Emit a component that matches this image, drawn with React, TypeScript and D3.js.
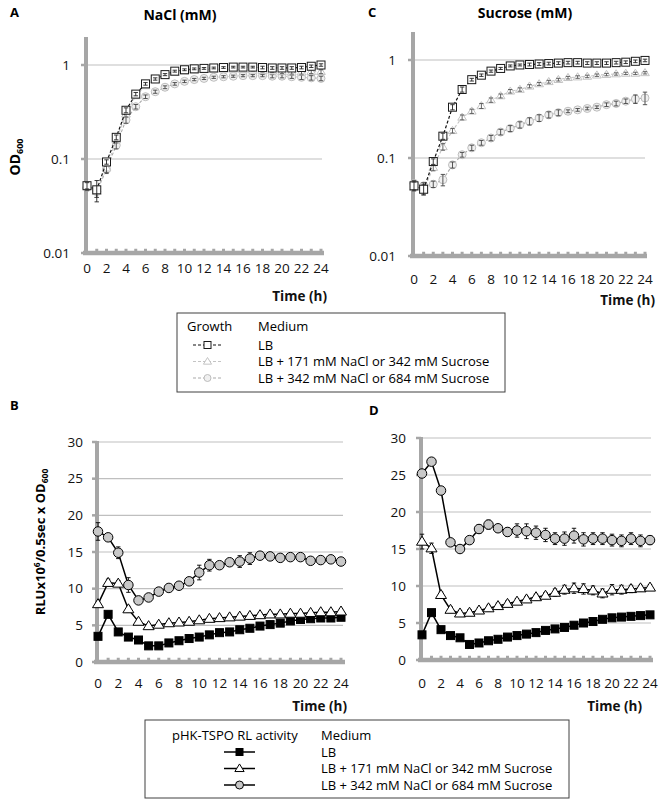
import React from 'react';
import * as d3 from 'd3';

// ---------- data ----------
const HOURS = [0, 1, 2, 3, 4, 5, 6, 7, 8, 9, 10, 11, 12, 13, 14, 15, 16, 17, 18, 19, 20, 21, 22, 23, 24];
const EVEN_HOURS = [0, 2, 4, 6, 8, 10, 12, 14, 16, 18, 20, 22, 24];
const LOG_TICKS = [0.01, 0.1, 1];
const LOG_TICK_LABELS = ['0.01', '0.1', '1'];
const LIN_TICKS = [0, 5, 10, 15, 20, 25, 30];

// Panel A: growth in NaCl (OD600)
const A_LB = [0.052, 0.047, 0.093, 0.17, 0.33, 0.49, 0.63, 0.71, 0.79, 0.86, 0.89, 0.91, 0.92, 0.93, 0.94, 0.95, 0.95, 0.95, 0.94, 0.93, 0.93, 0.93, 0.94, 0.97, 1.0];
const A_LB_ERR = [0.004, 0.012, 0.005, 0.01, 0.02, 0.02, 0.02, 0.02, 0.02, 0.02, 0.02, 0.02, 0.02, 0.02, 0.02, 0.02, 0.02, 0.02, 0.03, 0.03, 0.03, 0.03, 0.03, 0.03, 0.03];
const A_171 = [0.052, 0.045, 0.08, 0.16, 0.3, 0.47, 0.6, 0.7, 0.78, 0.83, 0.86, 0.88, 0.89, 0.9, 0.9, 0.9, 0.89, 0.88, 0.87, 0.86, 0.85, 0.84, 0.84, 0.85, 0.85];
const A_171_ERR = [0.004, 0.006, 0.008, 0.012, 0.02, 0.02, 0.02, 0.02, 0.02, 0.02, 0.02, 0.02, 0.02, 0.02, 0.02, 0.02, 0.02, 0.02, 0.03, 0.03, 0.04, 0.04, 0.04, 0.04, 0.04];
const A_342 = [0.05, 0.045, 0.078, 0.14, 0.26, 0.36, 0.46, 0.52, 0.58, 0.63, 0.67, 0.7, 0.72, 0.74, 0.75, 0.76, 0.77, 0.77, 0.77, 0.76, 0.76, 0.75, 0.74, 0.73, 0.72];
const A_342_ERR = [0.004, 0.006, 0.008, 0.012, 0.02, 0.02, 0.02, 0.02, 0.02, 0.02, 0.02, 0.02, 0.02, 0.02, 0.02, 0.02, 0.02, 0.02, 0.02, 0.03, 0.03, 0.03, 0.04, 0.04, 0.04];

// Panel C: growth in sucrose (OD600)
const C_LB = [0.052, 0.048, 0.092, 0.167, 0.33, 0.5, 0.63, 0.7, 0.77, 0.82, 0.87, 0.89, 0.9, 0.91, 0.92, 0.93, 0.94, 0.94, 0.93, 0.93, 0.93, 0.94, 0.95, 0.97, 0.99];
const C_LB_ERR = [0.005, 0.006, 0.006, 0.012, 0.02, 0.03, 0.02, 0.02, 0.02, 0.02, 0.02, 0.02, 0.03, 0.03, 0.03, 0.03, 0.03, 0.03, 0.03, 0.03, 0.03, 0.03, 0.03, 0.03, 0.03];
const C_342 = [0.05, 0.047, 0.08, 0.13, 0.19, 0.26, 0.3, 0.34, 0.39, 0.43, 0.48, 0.5, 0.54, 0.57, 0.6, 0.63, 0.66, 0.67, 0.68, 0.7, 0.71, 0.72, 0.73, 0.73, 0.74];
const C_342_ERR = [0.004, 0.005, 0.006, 0.01, 0.01, 0.015, 0.015, 0.02, 0.02, 0.02, 0.02, 0.02, 0.02, 0.02, 0.02, 0.02, 0.02, 0.02, 0.02, 0.02, 0.02, 0.02, 0.02, 0.02, 0.02];
const C_684 = [0.055, 0.052, 0.054, 0.06, 0.085, 0.108, 0.127, 0.143, 0.16, 0.184, 0.2, 0.218, 0.237, 0.256, 0.276, 0.29, 0.3, 0.31, 0.32, 0.33, 0.35, 0.36, 0.38, 0.4, 0.41];
const C_684_ERR = [0.004, 0.004, 0.004, 0.008, 0.006, 0.006, 0.008, 0.008, 0.01, 0.012, 0.014, 0.016, 0.02, 0.02, 0.02, 0.02, 0.01, 0.01, 0.01, 0.01, 0.015, 0.02, 0.02, 0.04, 0.06];

// Panel B: RL activity, NaCl
const B_LB = [3.5, 6.5, 4.1, 3.4, 3.0, 2.2, 2.2, 2.6, 2.9, 3.2, 3.4, 3.7, 4.0, 4.1, 4.4, 4.6, 4.9, 5.1, 5.3, 5.6, 5.8, 5.9, 6.0, 6.0, 6.1];
const B_LB_ERR = [0.3, 0.4, 0.2, 0.2, 0.2, 0.2, 0.2, 0.2, 0.2, 0.2, 0.2, 0.2, 0.2, 0.2, 0.2, 0.2, 0.2, 0.2, 0.2, 0.2, 0.2, 0.2, 0.2, 0.2, 0.2];
const B_171 = [7.9, 10.8, 10.7, 7.2, 5.5, 4.9, 5.1, 5.3, 5.4, 5.5, 5.7, 5.9, 6.0, 6.1, 6.2, 6.3, 6.4, 6.5, 6.5, 6.6, 6.6, 6.7, 6.8, 6.8, 6.9];
const B_171_ERR = [0.4, 0.5, 0.4, 0.4, 0.3, 0.3, 0.3, 0.3, 0.3, 0.3, 0.3, 0.3, 0.3, 0.3, 0.3, 0.3, 0.3, 0.3, 0.3, 0.3, 0.3, 0.3, 0.3, 0.3, 0.3];
const B_342 = [17.8, 17.0, 14.9, 10.5, 8.4, 8.8, 9.6, 10.1, 10.4, 11.0, 12.2, 13.2, 13.2, 13.6, 13.7, 14.1, 14.5, 14.4, 14.2, 14.3, 14.3, 13.8, 13.9, 14.0, 13.7];
const B_342_ERR = [1.2, 0.3, 0.8, 1.0, 0.3, 0.3, 0.3, 0.3, 0.3, 0.4, 1.0, 0.8, 0.3, 0.3, 0.8, 0.8, 0.5, 0.4, 0.3, 0.3, 0.3, 0.3, 0.3, 0.3, 0.3];

// Panel D: RL activity, sucrose
const D_LB = [3.4, 6.4, 4.1, 3.3, 3.0, 2.1, 2.3, 2.6, 2.8, 3.1, 3.3, 3.5, 3.7, 4.0, 4.2, 4.4, 4.7, 5.0, 5.2, 5.5, 5.7, 5.8, 5.9, 6.0, 6.1];
const D_LB_ERR = [0.3, 0.4, 0.2, 0.2, 0.2, 0.2, 0.2, 0.2, 0.2, 0.2, 0.2, 0.2, 0.2, 0.2, 0.2, 0.2, 0.2, 0.2, 0.2, 0.2, 0.2, 0.2, 0.2, 0.2, 0.2];
const D_342 = [16.0, 15.1, 8.8, 6.8, 6.3, 6.4, 6.7, 7.0, 7.3, 7.6, 7.9, 8.2, 8.5, 8.7, 9.1, 9.5, 9.7, 9.6, 9.4, 9.0, 9.5, 9.5, 9.6, 9.7, 9.8];
const D_342_ERR = [1.0, 0.7, 0.4, 0.4, 0.4, 0.4, 0.4, 0.4, 0.4, 0.4, 0.4, 0.4, 0.4, 0.4, 0.5, 0.6, 0.7, 0.7, 0.6, 0.6, 0.7, 0.6, 0.5, 0.4, 0.4];
const D_684 = [25.2, 26.8, 22.9, 15.9, 15.0, 16.2, 17.7, 18.3, 17.8, 17.3, 17.5, 17.4, 17.2, 16.9, 16.4, 16.4, 16.8, 16.3, 16.4, 16.4, 16.2, 16.1, 16.4, 16.1, 16.2];
const D_684_ERR = [0.4, 0.4, 0.5, 0.5, 0.4, 0.5, 0.6, 0.6, 0.5, 0.6, 0.9, 1.0, 0.9, 0.9, 0.8, 0.9, 1.0, 0.9, 0.8, 0.8, 0.8, 0.8, 0.8, 0.8, 0.6];

const GROWTH_LEGEND = ['LB', 'LB + 171 mM NaCl or 342 mM Sucrose', 'LB + 342 mM NaCl or 684 mM Sucrose'];

// ---------- styles ----------
const FONT = "'Open Sans', 'Noto Sans', sans-serif";
const AXIS = '#a6a6a6';
const GRID = '#bfbfbf';

type Marker = 'square' | 'triangle' | 'circle';
interface SeriesStyle {
  marker: Marker;
  size: number;
  stroke: string;
  fill: string;
  line: string;
  lineWidth: number;
  dash?: string;
  err: string;
}

const G_LB: SeriesStyle = { marker: 'square', size: 8, stroke: '#1a1a1a', fill: 'white', line: '#111', lineWidth: 1.2, dash: '3,2', err: '#222' };
const G_171: SeriesStyle = { marker: 'triangle', size: 7.5, stroke: '#c4c4c4', fill: 'white', line: '#c4c4c4', lineWidth: 1.1, dash: '3,2', err: '#555' };
const G_342: SeriesStyle = { marker: 'circle', size: 8, stroke: '#bdbdbd', fill: '#f0f0f0', line: '#aaaaaa', lineWidth: 1.1, dash: '3,2', err: '#444' };

const R_LB: SeriesStyle = { marker: 'square', size: 8, stroke: '#000', fill: '#000', line: '#000', lineWidth: 1.5, err: '#000' };
const R_171: SeriesStyle = { marker: 'triangle', size: 9.5, stroke: '#000', fill: 'white', line: '#000', lineWidth: 1.5, err: '#000' };
const R_342: SeriesStyle = { marker: 'circle', size: 9.5, stroke: '#000', fill: '#c8c8c8', line: '#000', lineWidth: 1.5, err: '#000' };

function markerEl(m: Marker, cx: number, cy: number, s: number, stroke: string, fill: string, key: string | number, sw = 1) {
  if (m === 'square') {
    return <rect key={key} x={cx - s / 2} y={cy - s / 2} width={s} height={s} stroke={stroke} fill={fill} strokeWidth={sw} />;
  }
  if (m === 'circle') {
    return <circle key={key} cx={cx} cy={cy} r={s / 2} stroke={stroke} fill={fill} strokeWidth={sw} />;
  }
  const h = s * 0.95;
  const w = s * 0.58;
  const d = `M${cx},${cy - h * 0.6}L${cx + w},${cy + h * 0.4}L${cx - w},${cy + h * 0.4}Z`;
  return <path key={key} d={d} stroke={stroke} fill={fill} strokeWidth={sw} />;
}

interface SeriesDef {
  values: number[];
  errs: number[];
  style: SeriesStyle;
}

interface PanelProps {
  log: boolean;
  x0: number;
  x1: number;
  yBottom: number;
  yTop: number;
  axisTop: number;
  gridEnd: number;
  series: SeriesDef[];
  yLabelEnd: number;
  xLabelY: number;
  timeRight: number;
  timeY: number;
  errorsOnTop: boolean;
}

function Panel(p: PanelProps) {
  const x = d3.scaleLinear().domain([0, 24]).range([p.x0, p.x1]);
  const y = p.log
    ? d3.scaleLog().domain([0.01, 1]).range([p.yBottom, p.yTop])
    : d3.scaleLinear().domain([0, 30]).range([p.yBottom, p.yTop]);
  const ticks = p.log ? LOG_TICKS : LIN_TICKS;
  const labels = p.log ? LOG_TICK_LABELS : LIN_TICKS.map(String);
  const axisX = x(0) - 1;

  const line = d3
    .line<number>()
    .x((_, i) => x(HOURS[i]))
    .y((v) => y(v));

  const errEls = (s: SeriesDef, si: number) =>
    s.values.map((v, i) => {
      const e = s.errs[i];
      const lo = y(Math.max(v - e, 0.001));
      const hi = y(v + e);
      const cx = x(HOURS[i]);
      const cw = 2.2;
      return (
        <g key={`e${si}-${i}`} stroke={s.style.err} strokeWidth={0.9}>
          <line x1={cx} x2={cx} y1={lo} y2={hi} />
          <line x1={cx - cw} x2={cx + cw} y1={lo} y2={lo} />
          <line x1={cx - cw} x2={cx + cw} y1={hi} y2={hi} />
        </g>
      );
    });

  return (
    <g>
      {ticks.slice(1).map((t) => (
        <line key={`g${t}`} x1={axisX} x2={p.gridEnd} y1={y(t)} y2={y(t)} stroke={GRID} strokeWidth={1.2} />
      ))}
      <line x1={axisX} x2={axisX} y1={p.axisTop} y2={p.yBottom + 2} stroke={AXIS} strokeWidth={4} />
      {ticks.map((t) => (
        <line key={`yt${t}`} x1={axisX - 5} x2={axisX} y1={y(t)} y2={y(t)} stroke={AXIS} strokeWidth={2.5} />
      ))}
      <line x1={axisX - 3} x2={p.gridEnd + 2} y1={p.yBottom} y2={p.yBottom} stroke={AXIS} strokeWidth={4.5} />
      {HOURS.slice(1).map((h) => (
        <line key={`xt${h}`} x1={x(h) - 1.5} x2={x(h) + 1.5} y1={p.yBottom - 3} y2={p.yBottom - 3} stroke={AXIS} strokeWidth={2.5} />
      ))}
      {ticks.map((t, i) => (
        <text key={`yl${t}`} x={p.yLabelEnd} y={y(t) + 4.5} textAnchor="end" fontSize={13.5} fill="#111">
          {labels[i]}
        </text>
      ))}
      {EVEN_HOURS.map((h) => (
        <text key={`xl${h}`} x={x(h)} y={p.xLabelY} textAnchor="middle" fontSize={13.5} fill="#111">
          {h}
        </text>
      ))}
      <text x={p.timeRight} y={p.timeY} textAnchor="end" fontSize={13.5} fontWeight="bold" fill="#111">
        Time (h)
      </text>
      {p.series.map((s, si) => (
        <g key={`s${si}`}>
          <path d={line(s.values) || ''} fill="none" stroke={s.style.line} strokeWidth={s.style.lineWidth} strokeDasharray={s.style.dash} />
          {!p.errorsOnTop && errEls(s, si)}
          {s.values.map((v, i) => markerEl(s.style.marker, x(HOURS[i]), y(v), s.style.size, s.style.stroke, s.style.fill, `m${si}-${i}`))}
          {p.errorsOnTop && errEls(s, si)}
        </g>
      ))}
    </g>
  );
}

function LegendRow(props: { x1: number; x2: number; y: number; style: SeriesStyle; size: number }) {
  const { x1, x2, y, style, size } = props;
  const cx = (x1 + x2) / 2;
  return (
    <g>
      <line x1={x1} x2={x2} y1={y} y2={y} stroke={style.line} strokeWidth={style.lineWidth} strokeDasharray={style.dash} />
      {markerEl(style.marker, cx, y, size, style.stroke, style.fill, 'lm')}
    </g>
  );
}

export default function App() {
  return (
    <svg width={666} height={806} style={{ position: 'absolute', left: 0, top: 0, background: 'white' }} fontFamily={FONT}>
      <rect x={0} y={0} width={666} height={806} fill="white" />
      <text x={10} y={17} fontSize={13} fontWeight="bold">A</text>
      <text x={180} y={20} fontSize={14} fontWeight="bold" textAnchor="middle">NaCl (mM)</text>
      <text x={368} y={17} fontSize={13} fontWeight="bold">C</text>
      <text x={525} y={18} fontSize={14} fontWeight="bold" textAnchor="middle">Sucrose (mM)</text>
      <text x={10} y={410} fontSize={13} fontWeight="bold">B</text>
      <text x={369} y={415} fontSize={13} fontWeight="bold">D</text>

      <text transform="translate(20,157) rotate(-90)" textAnchor="middle" fontSize={14} fontWeight="bold">
        OD<tspan fontSize={9} dy={3}>600</tspan>
      </text>

      <text transform="translate(45,542) rotate(-90)" textAnchor="middle" fontSize={13} fontWeight="bold">
        RLUx10<tspan fontSize={8.5} dy={-5}>6</tspan>
        <tspan dy={5}>/0.5sec x OD</tspan>
        <tspan fontSize={8.5} dy={3}>600</tspan>
      </text>

      <Panel
        log
        x0={87}
        x1={321}
        yBottom={253}
        yTop={65}
        axisTop={37}
        gridEnd={322}
        yLabelEnd={70}
        xLabelY={273}
        timeRight={327}
        timeY={301}
        errorsOnTop
        series={[
          { values: A_342, errs: A_342_ERR, style: G_342 },
          { values: A_171, errs: A_171_ERR, style: G_171 },
          { values: A_LB, errs: A_LB_ERR, style: G_LB },
        ]}
      />
      <Panel
        log
        x0={414}
        x1={645}
        yBottom={256}
        yTop={60}
        axisTop={32}
        gridEnd={645}
        yLabelEnd={396}
        xLabelY={284}
        timeRight={655}
        timeY={305}
        errorsOnTop
        series={[
          { values: C_684, errs: C_684_ERR, style: G_342 },
          { values: C_342, errs: C_342_ERR, style: G_171 },
          { values: C_LB, errs: C_LB_ERR, style: G_LB },
        ]}
      />
      <Panel
        log={false}
        x0={98}
        x1={341}
        yBottom={662}
        yTop={442}
        axisTop={441}
        gridEnd={343}
        yLabelEnd={83}
        xLabelY={688}
        timeRight={347}
        timeY={711}
        errorsOnTop={false}
        series={[
          { values: B_LB, errs: B_LB_ERR, style: R_LB },
          { values: B_171, errs: B_171_ERR, style: R_171 },
          { values: B_342, errs: B_342_ERR, style: R_342 },
        ]}
      />
      <Panel
        log={false}
        x0={422}
        x1={650}
        yBottom={660}
        yTop={438}
        axisTop={437}
        gridEnd={651}
        yLabelEnd={406}
        xLabelY={688}
        timeRight={642}
        timeY={711}
        errorsOnTop={false}
        series={[
          { values: D_LB, errs: D_LB_ERR, style: R_LB },
          { values: D_342, errs: D_342_ERR, style: R_171 },
          { values: D_684, errs: D_684_ERR, style: R_342 },
        ]}
      />

      <rect x={177} y={313} width={328} height={79} fill="white" stroke="#404040" strokeWidth={1} />
      <text x={187} y={331} fontSize={13}>Growth</text>
      <text x={258} y={331} fontSize={13}>Medium</text>
      {[G_LB, G_171, G_342].map((s, i) => (
        <g key={`gl${i}`}>
          <LegendRow x1={193} x2={222} y={345 + i * 16.5} style={s} size={7} />
          <text x={258} y={349.5 + i * 16.5} fontSize={13}>{GROWTH_LEGEND[i]}</text>
        </g>
      ))}

      <rect x={145} y={720} width={424} height={78} fill="white" stroke="#404040" strokeWidth={1} />
      <text x={172} y={740} fontSize={13}>pHK-TSPO RL activity</text>
      <text x={321} y={740} fontSize={13}>Medium</text>
      {[R_LB, R_171, R_342].map((s, i) => (
        <g key={`rl${i}`}>
          <LegendRow x1={224} x2={255} y={752 + i * 16.5} style={s} size={i === 0 ? 7 : 8} />
          <text x={321} y={756.5 + i * 16.5} fontSize={13}>{GROWTH_LEGEND[i]}</text>
        </g>
      ))}
    </svg>
  );
}
